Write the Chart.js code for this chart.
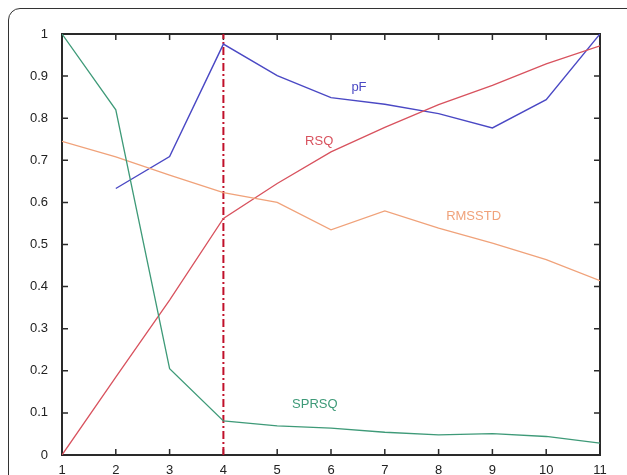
<!DOCTYPE html>
<html>
<head>
<meta charset="utf-8">
<script src="https://cdn.jsdelivr.net/npm/chart.js@4"></script>
<style>
    html, body { margin: 0; padding: 0; background: #fff; overflow: hidden; }
    #wrap { position: relative; width: 627px; height: 475px; }
    #frame {
        position: absolute; left: 8px; top: 8px; width: 640px; height: 500px;
        border: 1.5px solid #333; border-radius: 12px; box-sizing: border-box;
    }
    canvas { position: absolute; left: 0; top: 0; }
</style>
</head>
<body>
<div id="wrap">
    <div id="frame"></div>
    <canvas id="chart" width="627" height="475"></canvas>
</div>
<script>
const clusters = [1, 2, 3, 4, 5, 6, 7, 8, 9, 10, 11];
const yTicks = [0, 0.1, 0.2, 0.3, 0.4, 0.5, 0.6, 0.7, 0.8, 0.9, 1];
const pF     = [null, 0.633, 0.709, 0.976, 0.901, 0.849, 0.833, 0.811, 0.777, 0.844, 1.0];
const RSQ    = [0, 0.185, 0.368, 0.562, 0.645, 0.72, 0.778, 0.832, 0.878, 0.929, 0.972];
const RMSSTD = [0.745, 0.708, 0.665, 0.623, 0.6, 0.535, 0.58, 0.539, 0.503, 0.464, 0.414];
const SPRSQ  = [1.0, 0.82, 0.205, 0.081, 0.069, 0.064, 0.054, 0.048, 0.051, 0.044, 0.028];
const cutoff = 4;

const seriesLabels = [
    { text: 'pF',     x: 6.52, y: 0.874, color: '#4a48c4' },
    { text: 'RSQ',    x: 5.78, y: 0.744, color: '#d8525e' },
    { text: 'RMSSTD', x: 8.65, y: 0.566, color: '#f0a27a' },
    { text: 'SPRSQ',  x: 5.70, y: 0.121, color: '#3e9a78' }
];

function points(values) {
    return clusters.map((c, i) => ({ x: c, y: values[i] }));
}

// box, inward ticks and in-plot labels
const matlabBox = {
    id: 'matlabBox',
    beforeDatasetsDraw(chart) {
        const c = chart.ctx;
        const a = chart.chartArea;
        const xs = chart.scales.x, ys = chart.scales.y;
        c.save();
        c.setLineDash([]);
        c.strokeStyle = '#2a2a2a';
        c.lineWidth = 2;
        c.strokeRect(a.left, a.top, a.right - a.left, a.bottom - a.top);
        c.lineWidth = 1.5;
        const len = 6;
        c.beginPath();
        clusters.forEach(v => {
            const px = xs.getPixelForValue(v);
            c.moveTo(px, a.bottom); c.lineTo(px, a.bottom - len);
            c.moveTo(px, a.top); c.lineTo(px, a.top + len);
        });
        yTicks.forEach(v => {
            const py = ys.getPixelForValue(v);
            c.moveTo(a.left, py); c.lineTo(a.left + len, py);
            c.moveTo(a.right, py); c.lineTo(a.right - len, py);
        });
        c.stroke();
        c.restore();
    },
    afterDatasetsDraw(chart) {
        const c = chart.ctx;
        const xs = chart.scales.x, ys = chart.scales.y;
        c.save();
        c.font = '13px "Liberation Sans", Arial, sans-serif';
        c.textAlign = 'center';
        c.textBaseline = 'middle';
        seriesLabels.forEach(l => {
            c.fillStyle = l.color;
            c.fillText(l.text, xs.getPixelForValue(l.x), ys.getPixelForValue(l.y));
        });
        c.restore();
    }
};

const ctx = document.getElementById('chart').getContext('2d');

new Chart(ctx, {
    type: 'line',
    data: {
        datasets: [
            { data: points(SPRSQ), borderColor: '#3e9a78', borderWidth: 1.3 },
            { data: points(RMSSTD), borderColor: '#f0a27a', borderWidth: 1.3 },
            { data: points(RSQ), borderColor: '#d8525e', borderWidth: 1.3 },
            { data: points(pF), borderColor: '#4a48c4', borderWidth: 1.4 },
            {
                data: [{ x: cutoff, y: 0 }, { x: cutoff, y: 1 }],
                borderColor: '#c0102a', borderWidth: 2, borderDash: [8, 3, 2, 3]
            }
        ]
    },
    options: {
        responsive: false,
        animation: false,
        elements: { point: { radius: 0 }, line: { tension: 0 } },
        layout: { padding: { left: 0, top: 34, right: 27, bottom: 0 } },
        plugins: { legend: { display: false }, tooltip: { enabled: false } },
        scales: {
            x: {
                type: 'linear', min: 1, max: 11,
                grid: { display: false },
                border: { display: false },
                afterFit(scale) { scale.height = 20; },
                ticks: {
                    stepSize: 1, padding: 0, color: '#222',
                    font: { family: '"Liberation Sans", Arial, sans-serif', size: 13 }
                }
            },
            y: {
                min: 0, max: 1,
                grid: { display: false },
                border: { display: false },
                afterFit(scale) { scale.width = 62; },
                ticks: {
                    stepSize: 0.1, padding: 6, color: '#222',
                    font: { family: '"Liberation Sans", Arial, sans-serif', size: 13 },
                    callback: v => Math.round(v * 10) / 10
                }
            }
        }
    },
    plugins: [matlabBox]
});
</script>
</body>
</html>
